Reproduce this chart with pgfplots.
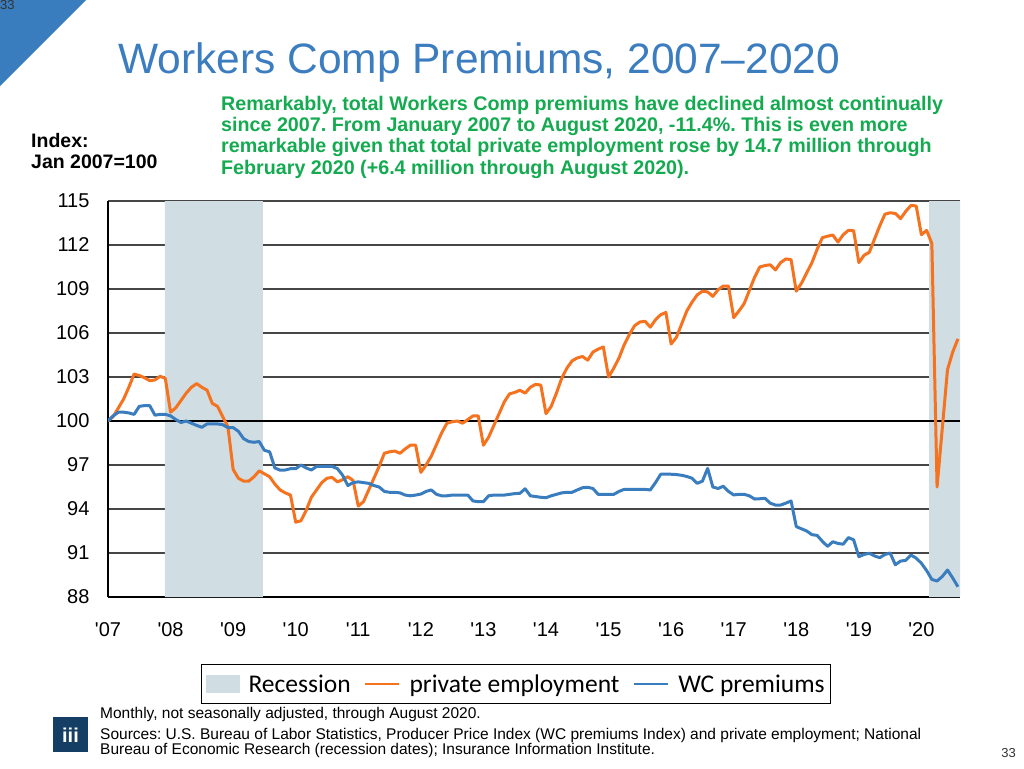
\documentclass[border=0pt]{standalone}
\usepackage{pgfplots}
\pgfplotsset{compat=1.18}
\usepackage{fontspec}
\setmainfont{Liberation Sans}
\newfontfamily\arial{Liberation Sans}
\newfontfamily\carlito{Carlito}
\definecolor{orng}{RGB}{245,114,30}
\definecolor{blu}{RGB}{58,125,190}
\definecolor{recess}{RGB}{208,221,227}
\definecolor{titleblue}{RGB}{60,125,192}
\definecolor{subgreen}{RGB}{20,170,80}
\definecolor{logoblue}{RGB}{20,62,100}
\definecolor{gridgray}{RGB}{70,70,70}
\frenchspacing
\begin{document}
\begin{tikzpicture}
\useasboundingbox (0,0) rectangle (1024pt,-768pt);
\fill[blu] (0,0) -- (86pt,0) -- (0,-86pt) -- cycle;
\node[anchor=base west, inner sep=0, font=\arial\fontsize{13}{15}\selectfont, text=black!80] at (0pt,-10pt) {33};
\node[anchor=base west, inner sep=0, text=titleblue, font=\arial\fontsize{42.5}{50}\selectfont] at (118pt,-73pt) {Workers Comp Premiums, 2007–2020};
\begin{scope}[every node/.style={anchor=base west, inner sep=0, text=subgreen, font=\arial\bfseries\fontsize{19.7}{22}\selectfont}]
\node at (221pt,-110pt) {Remarkably, total Workers Comp premiums have declined almost continually};
\node at (221pt,-131.3pt) {since 2007. From January 2007 to August 2020, -11.4\%. This is even more};
\node at (221pt,-152.7pt) {remarkable given that total private employment rose by 14.7 million through};
\node at (221pt,-174pt) {February 2020 (+6.4 million through August 2020).};
\end{scope}
\begin{scope}[every node/.style={anchor=base west, inner sep=0, text=black, font=\arial\bfseries\fontsize{19.5}{22}\selectfont}]
\node at (31pt,-147pt) {Index:};
\node at (31pt,-168pt) {Jan 2007=100};
\end{scope}
\begin{axis}[
  name=main, at={(108pt,-597pt)}, anchor=south west,
  scale only axis, width=852pt, height=396pt,
  xmin=0, xmax=163.4, ymin=88, ymax=115,
  axis x line=bottom, axis y line=left,
  x axis line style={-, black, line width=1.5pt},
  y axis line style={-, black, line width=2pt},
  xtick={0,12,...,156},
  xticklabels={'07,'08,'09,'10,'11,'12,'13,'14,'15,'16,'17,'18,'19,'20},
  ytick={88,91,...,115},
  ymajorgrids, major grid style={draw=gridgray, line width=1.2pt},
  major tick length=0pt,
  tick label style={font=\arial\fontsize{20}{24}\selectfont, text=black},
  /pgf/number format/assume math mode=true,
  yticklabel style={xshift=-15pt},
  xticklabel style={yshift=-22pt},
  legend style={at={(axis description cs:0.479,-0.2197)}, anchor=center, draw=black, line width=0.8pt,
    font=\carlito\fontsize{25.5}{30}\selectfont, legend columns=3,
    /tikz/every odd column/.append style={column sep=7pt},
    /tikz/every even column/.append style={column sep=11pt},
    inner xsep=4pt, inner ysep=8pt},
]
\addplot[fill=recess, draw=none, area legend,
  legend image code/.code={\fill[recess] (0pt,-9pt) rectangle (34pt,9pt);}]
  coordinates {(10.9,88) (10.9,115) (29.7,115) (29.7,88)} \closedcycle;
\addlegendentry{Recession}
\addplot[fill=recess, draw=none, forget plot]
  coordinates {(157.5,88) (157.5,115) (163.4,115) (163.4,88)} \closedcycle;
\addplot[black, line width=2.4pt, forget plot] coordinates {(0,100) (163.4,100)};
\addplot[orng, line width=3pt, line join=round,
  legend image code/.code={\draw[orng, line width=2.8pt] (0pt,0pt) -- (34pt,0pt);}]
  table {
0 100
1 100.3
2 100.9
3 101.5
4 102.3
5 103.2
6 103.1
7 102.95
8 102.75
9 102.8
10 103.05
11 102.9
12 100.6
13 100.9
14 101.4
15 101.9
16 102.3
17 102.55
18 102.3
19 102.1
20 101.2
21 101.0
22 100.3
23 99.6
24 96.7
25 96.1
26 95.9
27 95.9
28 96.2
29 96.6
30 96.4
31 96.2
32 95.7
33 95.3
34 95.1
35 94.95
36 93.1
37 93.2
38 93.9
39 94.8
40 95.3
41 95.8
42 96.1
43 96.15
44 95.85
45 96.0
46 96.2
47 95.95
48 94.2
49 94.5
50 95.3
51 96.1
52 96.9
53 97.8
54 97.9
55 97.95
56 97.8
57 98.1
58 98.35
59 98.35
60 96.5
61 97.0
62 97.6
63 98.4
64 99.2
65 99.85
66 99.95
67 100.0
68 99.85
69 100.1
70 100.35
71 100.35
72 98.35
73 98.9
74 99.7
75 100.5
76 101.3
77 101.85
78 101.95
79 102.1
80 101.9
81 102.3
82 102.5
83 102.45
84 100.5
85 101.0
86 101.9
87 102.9
88 103.6
89 104.1
90 104.3
91 104.4
92 104.15
93 104.7
94 104.9
95 105.05
96 103.0
97 103.6
98 104.3
99 105.2
100 105.9
101 106.5
102 106.75
103 106.8
104 106.4
105 106.9
106 107.25
107 107.4
108 105.25
109 105.7
110 106.6
111 107.5
112 108.1
113 108.6
114 108.85
115 108.8
116 108.5
117 108.95
118 109.2
119 109.2
120 107.05
121 107.5
122 108.0
123 108.9
124 109.8
125 110.5
126 110.6
127 110.65
128 110.3
129 110.8
130 111.05
131 111.0
132 108.85
133 109.4
134 110.1
135 110.8
136 111.7
137 112.5
138 112.6
139 112.68
140 112.2
141 112.7
142 113.0
143 112.97
144 110.8
145 111.3
146 111.5
147 112.4
148 113.3
149 114.1
150 114.2
151 114.15
152 113.8
153 114.3
154 114.7
155 114.66
156 112.7
157 113.0
158 112.1
159 95.5
160 99.5
161 103.5
162 104.7
163 105.6
};
\addlegendentry{private employment}
\addplot[blu, line width=3pt, line join=round,
  legend image code/.code={\draw[blu, line width=2.8pt] (0pt,0pt) -- (34pt,0pt);}]
  table {
0 100
1 100.35
2 100.6
3 100.6
4 100.55
5 100.45
6 101.0
7 101.05
8 101.05
9 100.4
10 100.45
11 100.45
12 100.35
13 100.1
14 99.9
15 100.0
16 99.85
17 99.7
18 99.57
19 99.8
20 99.8
21 99.8
22 99.75
23 99.55
24 99.55
25 99.3
26 98.8
27 98.6
28 98.55
29 98.6
30 98.0
31 97.9
32 96.8
33 96.65
34 96.66
35 96.75
36 96.75
37 97.0
38 96.8
39 96.66
40 96.9
41 96.9
42 96.9
43 96.9
44 96.75
45 96.3
46 95.6
47 95.8
48 95.85
49 95.8
50 95.75
51 95.6
52 95.5
53 95.2
54 95.14
55 95.14
56 95.1
57 94.95
58 94.9
59 94.95
60 95.02
61 95.2
62 95.3
63 95.0
64 94.9
65 94.9
66 94.95
67 94.95
68 94.95
69 94.95
70 94.55
71 94.5
72 94.5
73 94.9
74 94.95
75 94.95
76 94.95
77 95.0
78 95.05
79 95.07
80 95.38
81 94.9
82 94.85
83 94.8
84 94.77
85 94.9
86 95.0
87 95.1
88 95.14
89 95.14
90 95.3
91 95.45
92 95.48
93 95.4
94 95.0
95 95.0
96 95.0
97 95.0
98 95.2
99 95.34
100 95.34
101 95.34
102 95.34
103 95.34
104 95.3
105 95.8
106 96.37
107 96.37
108 96.37
109 96.35
110 96.3
111 96.22
112 96.1
113 95.75
114 95.9
115 96.77
116 95.5
117 95.4
118 95.55
119 95.2
120 94.96
121 95.0
122 95.0
123 94.9
124 94.68
125 94.7
126 94.73
127 94.4
128 94.27
129 94.27
130 94.4
131 94.55
132 92.8
133 92.65
134 92.5
135 92.25
136 92.2
137 91.8
138 91.45
139 91.77
140 91.65
141 91.6
142 92.05
143 91.9
144 90.75
145 90.9
146 90.98
147 90.8
148 90.68
149 90.9
150 91.0
151 90.2
152 90.45
153 90.5
154 90.86
155 90.65
156 90.3
157 89.8
158 89.2
159 89.09
160 89.4
161 89.84
162 89.3
163 88.7
};
\addlegendentry{WC premiums}
\end{axis}
\begin{scope}[every node/.style={anchor=base west, inner sep=0, text=black, font=\arial\fontsize{15.5}{18}\selectfont}]
\node at (100pt,-718pt) {Monthly, not seasonally adjusted, through August 2020.};
\node at (100pt,-739pt) {Sources: U.S. Bureau of Labor Statistics, Producer Price Index (WC premiums Index) and private employment; National};
\node at (100pt,-754pt) {Bureau of Economic Research (recession dates); Insurance Information Institute.};
\end{scope}
\fill[logoblue] (53pt,-717pt) rectangle (88pt,-752pt);
\node[text=white, font=\arial\bfseries\fontsize{20}{22}\selectfont, inner sep=0] at (70.5pt,-735pt) {iii};
\node[anchor=base east, inner sep=0, font=\arial\fontsize{13}{15}\selectfont, text=black!80] at (1016pt,-757pt) {33};
\end{tikzpicture}
\end{document}
